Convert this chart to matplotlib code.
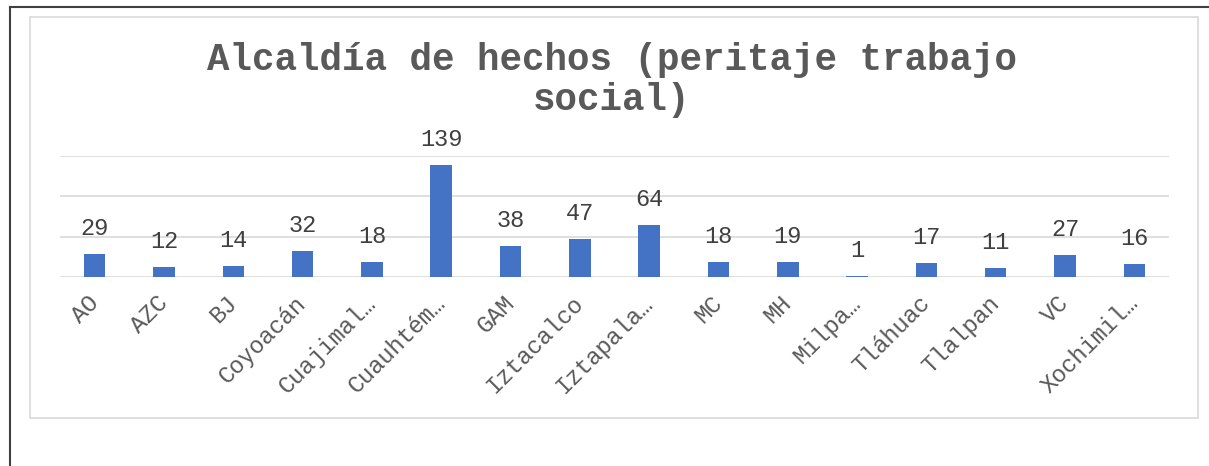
import matplotlib
matplotlib.use("Agg")
import matplotlib.pyplot as plt
from matplotlib.patches import Rectangle
from matplotlib.lines import Line2D
from matplotlib.transforms import ScaledTranslation

categories = ["AO", "AZC", "BJ", "Coyoacán", "Cuajimal…", "Cuauhtém…", "GAM",
              "Iztacalco", "Iztapala…", "MC", "MH", "Milpa…", "Tláhuac",
              "Tlalpan", "VC", "Xochimil…"]
values = [29, 12, 14, 32, 18, 139, 38, 47, 64, 18, 19, 1, 17, 11, 27, 16]
title = "Alcaldía de hechos (peritaje trabajo\nsocial)"

W, H = 1209, 466
DPI = 100
fig = plt.figure(figsize=(W / DPI, H / DPI), dpi=DPI)
fig.patch.set_facecolor("white")

FONT = ["Liberation Mono", "DejaVu Sans Mono"]

def fx(px):
    return px / W

def fy(py):
    return 1 - py / H

# outer frame lines (left and top)
fig.add_artist(Line2D([fx(10), fx(10)], [fy(7), 0], color="#404040", lw=1.5))
fig.add_artist(Line2D([fx(10), 1], [fy(7), fy(7)], color="#404040", lw=1.5))
# inner chart box
fig.add_artist(Rectangle((fx(30), fy(418)), fx(1198) - fx(30), fy(17) - fy(418),
                         fill=False, edgecolor="#D9D9D9", lw=1.2))

left, right = 60, 1169
top, bottom = 156, 277
ax = fig.add_axes([fx(left), fy(bottom), fx(right) - fx(left), fy(top) - fy(bottom)])
x = list(range(len(categories)))
bars = ax.bar(x, values, width=0.31, color="#4472C4", zorder=3)
ax.set_xlim(-0.5, len(categories) - 0.5)
ax.set_ylim(0, 150)
ax.set_yticks([0, 50, 100, 150])
ax.set_yticklabels([])
ax.tick_params(axis="y", length=0)
ax.grid(axis="y", color="#D9D9D9", lw=1.2, zorder=0)
for s in ax.spines.values():
    s.set_visible(False)
ax.set_facecolor("none")

ax.set_xticks(x)
ax.set_xticklabels(categories, rotation=45, ha="right", va="baseline",
                   rotation_mode="anchor", fontsize=17, color="#595959",
                   family=FONT)
ax.tick_params(axis="x", length=0, pad=19.5)
for lab in ax.get_xticklabels():
    lab.set_transform(lab.get_transform() + ScaledTranslation(5 / DPI, 0, fig.dpi_scale_trans))

for xi, v in zip(x, values):
    ax.annotate(str(v), (xi, v), xytext=(0, 19), textcoords="offset pixels",
                ha="center", va="baseline", fontsize=17, color="#404040",
                family=FONT)

fig.text(fx(612), fy(110), title, ha="center", va="baseline", fontsize=27,
         fontweight="bold", color="#595959", family=FONT, linespacing=1.15,
         multialignment="center")

fig.savefig("out.png", dpi=DPI)
